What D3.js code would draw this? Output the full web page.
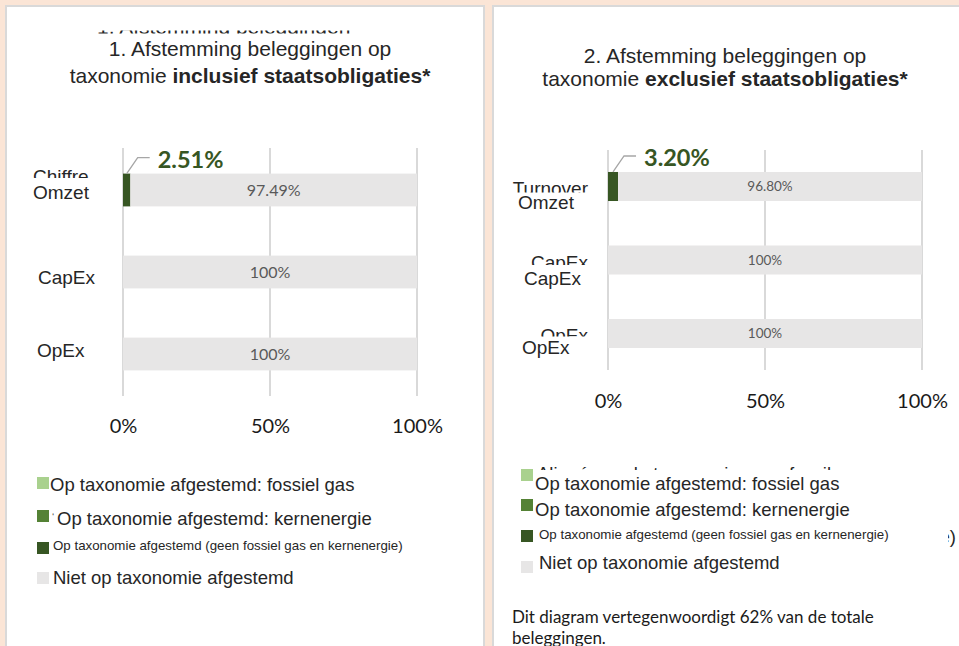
<!DOCTYPE html>
<html>
<head>
<meta charset="utf-8">
<script src="https://cdn.jsdelivr.net/npm/d3@7"></script>
<style>
body { margin: 0; background: #fbe5d6; }
svg { display: block; }
</style>
</head>
<body>
<svg id="chart"></svg>
<script>
// data
const categories = ["Omzet", "CapEx", "OpEx"]
const seriesKeys = ["gas", "kern", "aligned", "niet"]
const seriesNames = [
	"Op taxonomie afgestemd: fossiel gas",
	"Op taxonomie afgestemd: kernenergie",
	"Op taxonomie afgestemd (geen fossiel gas en kernenergie)",
	"Niet op taxonomie afgestemd"
]
const seriesColors = ["#a9d18e", "#548235", "#375623", "#e7e6e6"]

const inclGas = [0, 0, 0]
const inclKern = [0, 0, 0]
const inclAligned = [2.51, 0, 0]
const inclNiet = [97.49, 100, 100]

const exclGas = [0, 0, 0]
const exclKern = [0, 0, 0]
const exclAligned = [3.20, 0, 0]
const exclNiet = [96.80, 100, 100]

const tickValues = [0, 50, 100]
const footnote = ["Dit diagram vertegenwoordigt 62% van de totale", "beleggingen."]

var arial = "'Liberation Sans', Arial, sans-serif"
var calibri = "Lato, 'Open Sans', sans-serif"

var width = 959
var height = 646

var svg = d3.select("#chart")
	.attr("width", width)
	.attr("height", height)

svg.append("rect")
	.attr("width", width)
	.attr("height", height)
	.attr("fill", "#fbe5d6")

var defs = svg.append("defs")
var clipCount = 0

// group clipped to a rectangle (for the half hidden texts of the scan)
function clipped(g, x, y, w, h) {
	var id = "clip" + (clipCount++)
	defs.append("clipPath").attr("id", id)
		.append("rect").attr("x", x).attr("y", y).attr("width", w).attr("height", h)
	return g.append("g").attr("clip-path", `url(#${id})`)
}

function fmt(v) {
	return v === 100 ? "100%" : v.toFixed(2) + "%"
}

function drawPanel(p) {
	var g = svg.append("g")

	g.append("rect")
		.attr("x", p.panelX)
		.attr("y", 6)
		.attr("width", p.panelW)
		.attr("height", 700)
		.attr("fill", "#fff")
		.attr("stroke", "#d9d9d9")
		.attr("stroke-width", 2)

	if (p.ghostTitle) {
		clipped(g, p.panelX, 30.5, p.panelW, 3).append("text")
			.attr("x", p.ghostTitle.x)
			.attr("y", 33.5)
			.attr("font-family", arial)
			.attr("font-size", 21)
			.attr("fill", "#262626")
			.text(p.ghostTitle.text)
	}

	g.append("text")
		.attr("x", p.titleX)
		.attr("y", p.title1Y)
		.attr("text-anchor", "middle")
		.attr("font-family", arial)
		.attr("font-size", 21)
		.attr("fill", "#262626")
		.text(p.title1)

	var t2 = g.append("text")
		.attr("x", p.titleX)
		.attr("y", p.title2Y)
		.attr("text-anchor", "middle")
		.attr("font-family", arial)
		.attr("font-size", 21)
		.attr("fill", "#262626")
	t2.append("tspan").text("taxonomie ")
	t2.append("tspan").attr("font-weight", "bold").text(p.title2Bold)

	var x = d3.scaleLinear()
		.domain([0, 100])
		.range([p.x0, p.x1])

	var y = d3.scaleBand()
		.domain(categories)
		.range([p.gridTop, p.gridBottom])
		.paddingInner(p.padIn)
		.paddingOuter(p.padOut)

	g.append("g").selectAll("line")
		.data(tickValues)
		.join("line")
		.attr("x1", d => x(d))
		.attr("x2", d => x(d))
		.attr("y1", p.gridTop)
		.attr("y2", p.gridBottom)
		.attr("stroke", "#d9d9d9")
		.attr("stroke-width", 2)

	var rows = categories.map((c, i) => ({cat: c, gas: p.gas[i], kern: p.kern[i], aligned: p.aligned[i], niet: p.niet[i]}))
	var series = d3.stack().keys(seriesKeys)(rows)

	g.append("g").selectAll("g")
		.data(series)
		.join("g")
		.attr("fill", (d, i) => seriesColors[i])
		.selectAll("rect")
		.data(d => d.filter(s => s[1] > s[0]))
		.join("rect")
		.attr("x", d => x(d[0]))
		.attr("width", d => x(d[1]) - x(d[0]))
		.attr("y", d => y(d.data.cat))
		.attr("height", y.bandwidth())

	// labels inside the grey segment
	g.append("g").selectAll("text")
		.data(series[3].filter(s => s[1] > s[0]))
		.join("text")
		.attr("x", d => x((d[0] + d[1]) / 2))
		.attr("y", d => y(d.data.cat) + y.bandwidth() / 2)
		.attr("dy", "0.35em")
		.attr("text-anchor", "middle")
		.attr("font-family", calibri)
		.attr("font-size", p.valueSize)
		.attr("fill", "#595959")
		.text(d => fmt(d[1] - d[0]))

	// callout of the aligned segment
	var aligned = series[2].filter(s => s[1] > s[0])
	aligned.forEach(d => {
		var cx = x((d[0] + d[1]) / 2)
		var top = y(d.data.cat)
		g.append("polyline")
			.attr("points", [[cx, top], [cx + 11, top - 16], [cx + 23, top - 16]].join(" "))
			.attr("fill", "none")
			.attr("stroke", "#a6a6a6")
			.attr("stroke-width", 1.3)
		g.append("text")
			.attr("x", cx + 31)
			.attr("y", top - 6)
			.attr("font-family", calibri)
			.attr("font-weight", "bold")
			.attr("font-size", 23.5)
			.attr("fill", "#375623")
			.text(fmt(d[1] - d[0]))
	})

	var xAxis = g.append("g")
		.attr("transform", `translate(0,${p.tickY})`)
		.call(d3.axisBottom(x).tickValues(tickValues).tickFormat(d => d + "%").tickSize(0))
		.call(a => a.select(".domain").remove())
	xAxis.selectAll("text")
		.attr("y", 0)
		.attr("dy", 0)
		.attr("font-family", calibri)
		.attr("font-size", 20)
		.attr("fill", "#1a1a1a")

	// ghost labels of the scan, partly covered
	p.ghosts.forEach((gh, i) => {
		if (!gh) return
		var cy = y(categories[i]) + y.bandwidth() / 2
		clipped(g, p.panelX, cy - 30, 200, 30 + gh.cut).append("text")
			.attr("x", p.ghostX)
			.attr("y", cy + gh.dy)
			.attr("text-anchor", p.ghostAnchor)
			.attr("font-family", arial)
			.attr("font-size", 19)
			.attr("fill", "#262626")
			.text(gh.text)
	})

	g.append("g").selectAll("text")
		.data(categories)
		.join("text")
		.attr("x", (d, i) => p.labelX[i])
		.attr("y", (d, i) => y(d) + y.bandwidth() / 2 + p.labelDy[i])
		.attr("font-family", arial)
		.attr("font-size", 19)
		.attr("fill", "#262626")
		.text(d => d)

	// legend
	var leg = g.append("g")
	seriesNames.forEach((name, i) => {
		leg.append("rect")
			.attr("x", p.legX)
			.attr("y", p.legSquareY[i])
			.attr("width", 12)
			.attr("height", 12)
			.attr("fill", seriesColors[i])
		leg.append("text")
			.attr("x", p.legTextX[i])
			.attr("y", p.legTextY[i])
			.attr("font-family", arial)
			.attr("font-size", i === 2 ? 13.3 : 18.5)
			.attr("fill", "#262626")
			.text(name)
	})

	return g
}

var left = drawPanel({
	panelX: 6, panelW: 478,
	ghostTitle: {x: 97, text: "1. Afstemming beleggingen"},
	titleX: 250, title1Y: 56, title2Y: 83,
	title1: "1. Afstemming beleggingen op",
	title2Bold: "inclusief staatsobligaties*",
	x0: 123, x1: 417,
	gridTop: 148, gridBottom: 396, padIn: 0.6, padOut: 0.312,
	gas: inclGas, kern: inclKern, aligned: inclAligned, niet: inclNiet,
	valueSize: 16, tickY: 433,
	ghostX: 33, ghostAnchor: "start",
	ghosts: [{text: "Chiffre", dy: -7, cut: -12}, null, null],
	labelX: [33, 38, 37], labelDy: [9, 12, 3],
	legX: 37,
	legSquareY: [477, 510, 542, 572],
	legTextX: [50, 57, 53, 53],
	legTextY: [491, 525, 550, 584]
})

// small fragment left over next to the second legend item
left.append("text")
	.attr("x", 52)
	.attr("y", 521)
	.attr("font-family", arial)
	.attr("font-size", 10)
	.attr("fill", "#555")
	.text("\u2018")

var right = drawPanel({
	panelX: 493, panelW: 480,
	titleX: 725, title1Y: 63, title2Y: 86,
	title1: "2. Afstemming beleggingen op",
	title2Bold: "exclusief staatsobligaties*",
	x0: 608, x1: 922,
	gridTop: 150, gridBottom: 370, padIn: 0.605, padOut: 0.299,
	gas: exclGas, kern: exclKern, aligned: exclAligned, niet: exclNiet,
	valueSize: 13.5, tickY: 408,
	ghostX: 588, ghostAnchor: "end",
	ghosts: [{text: "Turnover", dy: 9, cut: 6}, {text: "CapEx", dy: 9, cut: 5}, {text: "OpEx", dy: 8, cut: 3}],
	labelX: [518, 524, 522], labelDy: [23, 24.5, 20.5],
	legX: 521,
	legSquareY: [469, 499, 530, 561],
	legTextX: [535, 535, 539, 539],
	legTextY: [490, 516, 539, 569]
})

// text fragments from the scan behind the legend
clipped(right, 530, 460, 400, 10).append("text")
	.attr("x", 537)
	.attr("y", 480)
	.attr("font-family", arial)
	.attr("font-size", 18.5)
	.attr("fill", "#262626")
	.text("Alignés sur la taxonomie : gaz fossile")

clipped(right, 948, 520, 20, 40).append("text")
	.attr("x", 956)
	.attr("y", 543)
	.attr("text-anchor", "end")
	.attr("font-family", arial)
	.attr("font-size", 18.5)
	.attr("fill", "#262626")
	.text("ie)")

right.append("g").selectAll("text")
	.data(footnote)
	.join("text")
	.attr("x", 512)
	.attr("y", (d, i) => 623 + i * 21)
	.attr("font-family", calibri)
	.attr("font-size", 17)
	.attr("fill", "#1a1a1a")
	.text(d => d)
</script>
</body>
</html>
